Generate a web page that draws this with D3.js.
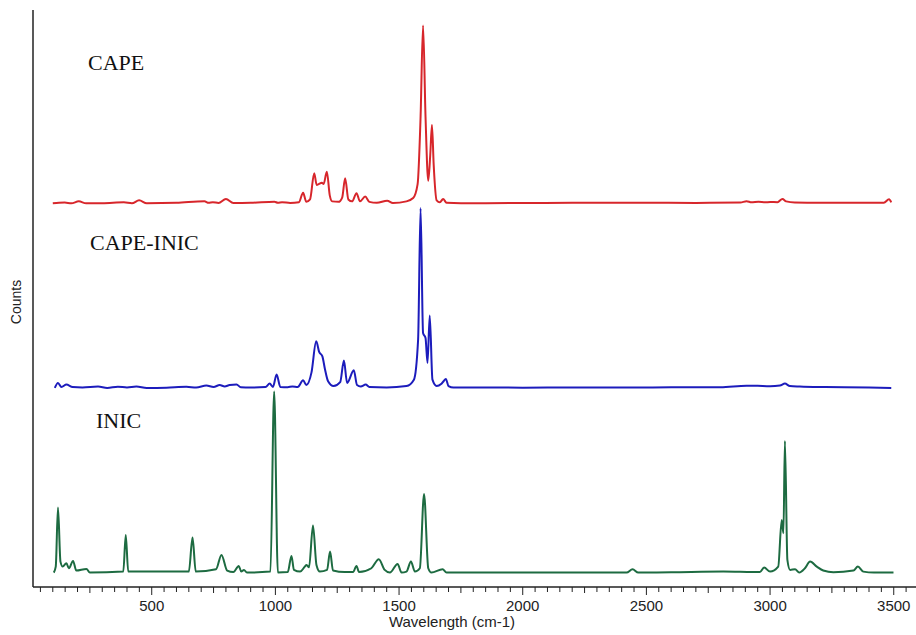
<!DOCTYPE html>
<html lang="en">
<head>
  <meta charset="UTF-8" />
  <title>Raman spectra: CAPE, CAPE-INIC, INIC</title>
  <script src="https://cdnjs.cloudflare.com/ajax/libs/d3/7.8.2/d3.min.js"></script>
  <style>
    body { margin: 0; padding: 0; background: #fff; }
    svg { display: block; }
    .axis text { font-family: "Liberation Sans", Arial, sans-serif; font-size: 15px; fill: #222; }
    .series-label { font-family: "Liberation Serif", "Times New Roman", serif; font-size: 22px; fill: #111; }
    .axis-title { font-family: "Liberation Sans", Arial, sans-serif; font-size: 15px; fill: #222; }
  </style>
</head>
<body>
<svg id="chart"></svg>
<script>
// ---- data (wavenumber cm-1, counts above each trace's own baseline) ----
const seriesNames = ["CAPE", "CAPE-INIC", "INIC"];
const seriesColors = ["#d7262b", "#1c1cbc", "#1d6b41"];
const seriesOffsets = [3990, 2070, 150];   // vertical stacking offsets (counts)

const capePoints = [
  [100,0],[125,5],[148,7],[175,0],[205,20],[235,0],[300,0],[387,10],[420,0],[449,31],[480,0],
  [600,5],[713,21],[730,5],[747,12],[770,3],[800,45],[830,3],[900,5],[996,17],[1010,5],[1027,12],
  [1060,3],[1095,10],[1112,110],[1125,15],[1140,40],[1157,312],[1167,190],[1175,200],[1188,214],
  [1195,200],[1208,328],[1220,80],[1230,20],[1255,15],[1270,60],[1282,260],[1295,40],[1310,20],
  [1328,104],[1342,20],[1363,70],[1380,15],[1410,5],[1452,27],[1475,3],[1530,20],[1557,55],
  [1575,200],[1587,900],[1597,1850],[1607,900],[1618,235],[1626,500],[1633,815],[1640,400],
  [1652,30],[1665,10],[1678,45],[1692,5],[1750,0],[2000,3],[2200,5],[2500,5],[2700,4],[2880,8],
  [2905,22],[2925,10],[2953,15],[2980,10],[3000,14],[3030,12],[3050,45],[3065,20],[3100,8],
  [3200,5],[3300,6],[3400,5],[3460,5],[3481,42],[3490,10]
];

const capeInicPoints = [
  [108,0],[121,52],[135,10],[155,35],[180,10],[220,5],[283,15],[320,0],[363,12],[400,5],[438,15],
  [480,0],[560,3],[640,12],[680,4],[721,25],[750,10],[775,30],[795,15],[815,30],[843,35],[860,8],
  [900,5],[960,10],[977,45],[990,10],[1005,139],[1020,10],[1050,8],[1069,15],[1090,10],[1112,79],
  [1125,30],[1146,162],[1165,485],[1177,374],[1190,328],[1200,200],[1213,69],[1235,20],[1262,60],
  [1277,284],[1290,52],[1317,183],[1330,30],[1345,15],[1365,35],[1380,10],[1450,5],[1530,20],
  [1560,86],[1577,502],[1587,1870],[1597,572],[1607,520],[1615,260],[1624,753],[1635,86],
  [1652,20],[1670,40],[1680,70],[1689,94],[1700,20],[1720,5],[1800,5],[2000,3],[2200,5],[2400,4],
  [2600,6],[2800,8],[2905,24],[2950,22],[3000,18],[3040,25],[3060,45],[3080,20],[3120,15],
  [3200,10],[3300,8],[3400,5],[3490,0]
];

const inicPoints = [
  [104,0],[112,62],[121,676],[131,114],[140,62],[155,97],[165,45],[182,121],[195,21],[236,38],
  [250,0],[385,10],[395,392],[405,10],[539,10],[650,10],[665,364],[678,10],[760,35],[782,184],
  [805,21],[830,5],[852,69],[862,10],[873,28],[885,0],[980,10],[995,1883],[1010,0],[1050,5],
  [1065,173],[1075,28],[1100,10],[1119,62],[1126,80],[1136,55],[1152,489],[1166,80],[1180,10],
  [1209,28],[1221,218],[1233,21],[1280,5],[1314,5],[1328,69],[1338,5],[1388,45],[1418,139],
  [1442,28],[1463,0],[1494,90],[1510,0],[1530,10],[1548,114],[1564,10],[1584,45],[1601,818],
  [1618,45],[1631,0],[1676,35],[1692,0],[2420,0],[2444,35],[2467,0],[2600,3],[2811,10],[2878,8],
  [2959,5],[2976,52],[3000,10],[3033,62],[3047,548],[3054,409],[3060,1369],[3070,132],[3081,28],
  [3101,35],[3118,0],[3141,45],[3162,114],[3189,62],[3215,21],[3256,3],[3337,21],[3355,62],
  [3377,10],[3420,0],[3499,0]
];

const xDomain = [20, 3590];
const yDomain = [0, 6000];
const xTickLabels = [500, 1000, 1500, 2000, 2500, 3000, 3500];

// ---- layout ----
const width = 916, height = 635;
const margin = { top: 10, right: 0, bottom: 48, left: 33 };

const svg = d3.select("#chart").attr("width", width).attr("height", height);

const x = d3.scaleLinear().domain(xDomain).range([margin.left, width - margin.right]);
const y = d3.scaleLinear().domain(yDomain).range([height - margin.bottom, margin.top]);

// ---- traces ----
const allSeries = [capePoints, capeInicPoints, inicPoints];

allSeries.forEach((pts, i) => {
  const line = d3.line()
    .x(d => x(d[0]))
    .y(d => y(d[1] + seriesOffsets[i]))
    .curve(d3.curveMonotoneX);

  svg.append("path")
    .datum(pts)
    .attr("fill", "none")
    .attr("stroke", seriesColors[i])
    .attr("stroke-width", 2)
    .attr("stroke-linejoin", "round")
    .attr("d", line);
});

// ---- axes ----
const y0 = height - margin.bottom;

// minor ticks every 50
const minorTicks = d3.range(50, 3600, 50).filter(v => v <= xDomain[1]);
const xAxisG = svg.append("g").attr("class", "axis");

xAxisG.append("line")
  .attr("x1", margin.left).attr("x2", width)
  .attr("y1", y0).attr("y2", y0)
  .attr("stroke", "#222").attr("stroke-width", 1.5);

xAxisG.selectAll("line.tick")
  .data(minorTicks)
  .enter().append("line")
  .attr("class", "tick")
  .attr("x1", d => x(d)).attr("x2", d => x(d))
  .attr("y1", y0)
  .attr("y2", d => y0 + (d % 500 === 0 ? 8 : (d % 250 === 0 ? 6 : 5)))
  .attr("stroke", "#222").attr("stroke-width", 1);

xAxisG.selectAll("text.lbl")
  .data(xTickLabels)
  .enter().append("text")
  .attr("class", "lbl")
  .attr("x", d => x(d))
  .attr("y", y0 + 24)
  .attr("text-anchor", "middle")
  .text(d => d);

svg.append("line")
  .attr("x1", margin.left).attr("x2", margin.left)
  .attr("y1", margin.top).attr("y2", y0)
  .attr("stroke", "#222").attr("stroke-width", 1.5);

// titles
svg.append("text")
  .attr("class", "axis-title")
  .attr("x", 452).attr("y", 627)
  .attr("text-anchor", "middle")
  .text("Wavelength (cm-1)");

svg.append("text")
  .attr("class", "axis-title")
  .style("font-size", "14px")
  .attr("transform", "translate(21,302) rotate(-90)")
  .attr("text-anchor", "middle")
  .text("Counts");

// series labels
const labelPos = [[88, 70], [90, 250], [96, 428]];
seriesNames.forEach((name, i) => {
  svg.append("text")
    .attr("class", "series-label")
    .attr("x", labelPos[i][0])
    .attr("y", labelPos[i][1])
    .text(name);
});
</script>
</body>
</html>
